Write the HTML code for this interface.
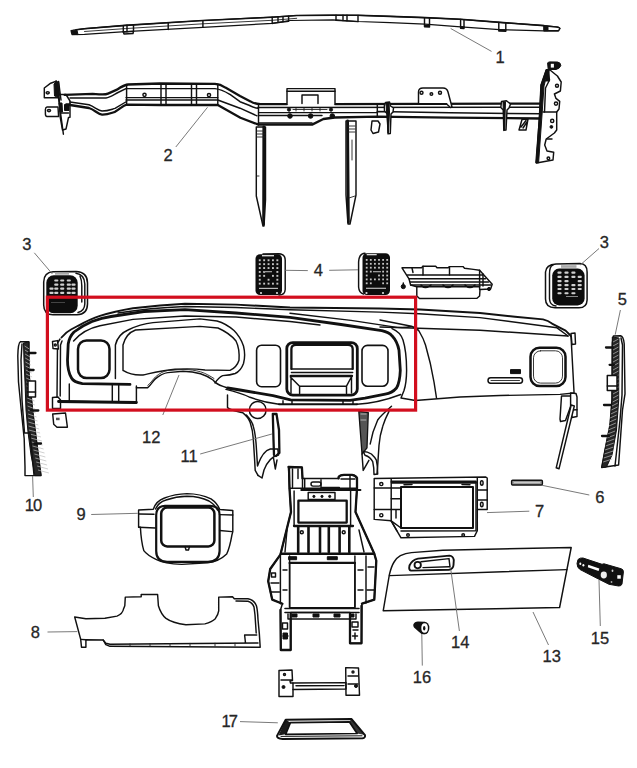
<!DOCTYPE html>
<html><head><meta charset="utf-8">
<style>
html,body{margin:0;padding:0;background:#fff;}
body{width:637px;height:768px;overflow:hidden;}
svg{display:block;}
.l{fill:none;stroke:#111;stroke-width:1.45;stroke-linejoin:round;stroke-linecap:round;}
.t{fill:none;stroke:#111;stroke-width:2.3;stroke-linejoin:round;stroke-linecap:round;}
.tt{fill:none;stroke:#111;stroke-width:2.8;stroke-linejoin:round;stroke-linecap:round;}
.th{fill:none;stroke:#222;stroke-width:0.9;stroke-linejoin:round;stroke-linecap:round;}
.ld{fill:none;stroke:#6a6a6a;stroke-width:0.9;}
.f{fill:#111;stroke:#111;stroke-width:1;stroke-linejoin:round;}
.w{fill:#fff;}
.wf{fill:#fff;stroke:#111;stroke-width:1.45;stroke-linejoin:round;}
text{font-family:"Liberation Sans",sans-serif;font-size:16.5px;fill:#262626;stroke:#262626;stroke-width:0.3px;}
</style></head><body>
<svg width="637" height="768" viewBox="0 0 637 768">
<rect width="637" height="768" fill="#fff"/>

<!-- PART 1 : top bar -->
<g id="p1">
<path class="wf" d="M71,30.5 L84.5,28.7 L125.3,25.4 L202.9,20.5 L272.2,17.2 L296.7,15.5 L333,15.2 L358,15.3 L390,16.4 L425,17.6 L460.6,19.3 L503,22.6 L544,25.6 L558,27 L560,28.4 L558,31 L544,30.8 L503,29.8 L460.6,26.8 L425,24.2 L390,22.6 L358,21.5 L333,19.8 L290,20.5 L272.2,23.4 L202.9,27.4 L125.3,31.7 L84.5,34.4 L72,34.6 Z" style="stroke-width:1.2"/>
<path class="t" d="M76,29.8 L84.5,28.7 L125.3,25.4 L202.9,20.5 L272.2,17.2 L296.7,15.5 L333,15.2 L358,15.3 L390,16.4 L425,17.6 L460.6,19.3 L503,22.6 L544,25.6" style="stroke-width:1.6"/>
<path class="th" d="M84.5,31.5 L125.3,28.6 L202.9,23.8 L272.2,20.3 L296.7,18.3"/>
<path class="l" d="M123.3,25.6 L123.3,32 M127,25.3 L127,31.8 M133.5,24.8 L133.5,31.3 M168.2,22.6 L168.2,29.5 M202.9,20.6 L202.9,27.3 M272.2,17.3 L272.2,23.4 M278,17 L278,22.6 M283,16.6 L283,21.6 M288.6,16.2 L288.6,20.8 M336,15.3 L336,20 M343,15.3 L343,20.4 M347,15.3 L347,20.7 M358,15.4 L358,21.5 M424.5,17.8 L424.5,25 M429.5,18 L429.5,25.2 M460.6,19.5 L460.6,26.8 M464,19.7 L464,27 M498.8,22.4 L498.8,29.6 M505.8,22.8 L505.8,29.8"/>
<path class="l" d="M123.3,32 L133.5,31.4 L133,33.5 L124,34 Z M272.2,23.4 L288.6,21.2 M336,20.2 L358,21.6 M424.5,25.4 L429.5,25.6 L429.5,27 L424.5,26.8 Z M498.8,29.7 L505.8,29.9 L505.8,31.2 L498.8,31 Z M460.6,26.8 L464,27 L464,28.5 L460.6,28.3 Z"/>
<path class="wf" d="M544,25.8 L556,27 Q560,27.5 559.8,28.6 L558.5,30.8 L548,30.8 L544,30.8 Z" style="stroke-width:1.4"/><path class="f" d="M544,26 L548,26.4 L548,30.6 L544,30.6 Z"/>
<path class="f" d="M71.5,30.8 Q73,30 77,30.2 L78,34.6 L73,34.4 Q70.8,33 71.5,30.8 Z"/>
</g>
<path class="ld" d="M450.7,28.5 L491.5,51.4"/>
<text x="495.5" y="62.7">1</text>

<!-- PART 2 : cross car beam -->
<g id="p2">
<!-- left bracket -->
<path class="wf" d="M44.3,97.8 L44.3,88 L50.7,83.2 L56.2,81.3 L58,97.8 Z"/>
<ellipse class="l" cx="47.7" cy="92.8" rx="1.6" ry="1.1"/>
<path class="wf" d="M47,107 L58,107 L58.6,116.5 L47,116.5 Q45.4,116.4 45.4,114 L45.4,109.5 Q45.5,107.2 47,107 Z"/>
<ellipse class="l" cx="49" cy="110.6" rx="1.6" ry="1.1"/>
<path class="wf" d="M59,94.5 L66,94.5 L70,101 L70,117.3 L68.5,117.5 L66,129 L62.5,130 L60.2,117 Z"/>
<path class="l" d="M56.2,81 L63.4,134.2 M58.6,81.5 L61,100 M60.5,113 L68.5,113 M66,104 L70,104"/>
<path class="f" d="M54,84 L56.5,81.5 L58.6,82 L59.5,95 L57.5,97 L54.5,96 Z"/>
<path class="f" d="M59,103 L62,103 L62.5,112 L60,112 Z"/>
<rect x="64.5" y="104.5" width="4.5" height="6" class="f"/>
<!-- S-shaped left section -->
<path class="t" d="M64.5,94.8 L92.7,93.9 C100,94 104,95.5 108,93.6 L117,89.6 C121,87 124,85 128,84.5 L160,83.5 L215,83.8 C220,84 222,85.2 225.4,87.6 L240,96 L250.5,101.4 C253,103 256,104 260.5,104.2 L287,104.2"/>
<path class="l" d="M70,98 L106,98 C110,97.4 114,94.5 118,92.5 L126,88.6 L160,88.6 L215,88.6 C222,89.4 226,92 230,94.4 L240,101.7 L249,105.2 C252,106.8 254,108 258,108.2"/>
<path class="l" d="M126,97.6 L217.8,97.6 M126,100 L217.8,100 L240,108.2 L257,115.8"/>
<path class="t" d="M70,105 L89,108 C95,110 98,114.4 102,114.6 C108,114.8 111,113 115,111.8 C120,109 123,105.5 126.6,104.6 L160,105 L217.8,105 L240.4,117.7 L258.5,124.6 L312.1,124.6 L323.4,119 L334.7,117.5 L377.3,116.6 L450,117.6 L540,118.5"/>
<path class="l" d="M70,102 L89,104.8 C95,107 98,110.5 102,111 C108,111 111,109.5 115,108.4 L126.6,101.5"/>
<path class="l" d="M126.6,84.5 L126.6,104.6 M161,83.6 L161,105 M166,83.6 L166,105 M191.5,83.7 L191.5,105 M196.5,83.7 L196.5,105 M217.8,84 L217.8,105 M258.5,104.3 L258.5,125"/>
<circle class="l" cx="144.5" cy="94.8" r="1.6"/>
<circle class="l" cx="209" cy="95" r="1.6"/>
<!-- center right beam lines -->
<path class="t" d="M335,104.2 L541,103.6"/>
<path class="l" d="M258,107.5 L541,107.3 M259,112.6 L377.3,112.6 M259,115.4 L322,115.4 M377.3,111.5 L450,112.8 L541,113.8 M258.5,123 L312,123"/>
<path class="l" d="M377.3,104 L377.3,116.5"/>
<!-- center box -->
<path class="wf" d="M287,104.2 L287,88.6 L335,88.6 L335,104.2"/>
<path class="l" d="M287,91.3 L335,91.3 M302,103.5 L302,95 L318,95 L318,103.5"/>
<g class="f"><circle cx="290" cy="116" r="2.3"/><circle cx="310.6" cy="116" r="2.3"/><circle cx="332.3" cy="116" r="2.3"/><circle cx="289" cy="109.6" r="1.6"/><circle cx="331" cy="109.6" r="1.6"/></g>
<path class="th" d="M293,109.5 L327,109.5 M296,108.4 L296,111 M304,108.4 L304,111 M312,108.4 L312,111 M320,108.4 L320,111"/>
<!-- struts -->
<path class="wf" d="M256.3,127 L265.5,127 L265.5,200 L264,226 L263,226 L256.3,196 Z"/>
<path class="tt" d="M263.8,127 L263.6,224"/>
<path class="th" d="M257,131 L265,131 M257,134 L265,134 M257,137 L265,137 M257,176 L259,176"/>
<path class="wf" d="M346,121 L356,121 L356,195 L350,224 L348,224 L346,195 Z"/>
<path class="tt" d="M347.6,121 L348.4,222"/>
<path class="th" d="M348,126 L355,126 M348,129 L355,129 M348,132 L355,132 M352,140 L352,160 M349,198 L355,196"/>
<!-- clips under beam -->
<path class="wf" d="M372,121 L378,121 L380,124 L378.5,132 L373,133.5 L371,130 Z"/>
<path class="wf" d="M385.5,102.5 L389.5,102 L390.5,106 L393.5,108 L393,112 L391,114 L390.3,133.5 L388,133.8 L387.5,114 L384.5,111 L384.3,106 Z"/><path class="f" d="M386,103 L389,102.8 L389.5,112 L388.5,132 L388,133 Z"/>
<!-- bracket on beam top -->
<path class="wf" d="M418.5,103.8 L418.5,92 Q418.5,88 423,88 L443,88 Q447,88 448,92 L452,107 L450.5,107.5 L446.6,104 Z"/>
<circle class="l" cx="421.5" cy="92.8" r="1.5"/><circle class="l" cx="431.4" cy="94" r="1.3"/><circle class="l" cx="440" cy="92.8" r="1.5"/>
<path class="l" d="M418.5,103.8 L446.6,103.8"/>
<path class="wf" d="M501.5,101.5 L506.5,100.8 L510.5,104 L509,108 L507,110 L506,130 L503.8,130.4 L503.3,110 L500.8,107.5 Z"/><path class="f" d="M503,102 L505.5,101.8 L505.2,111 L504.8,129.5 L504,129.8 Z"/>
<path class="l" d="M519,130 L522,119.5 L528,119 L526,130 Z M521,127 L526,120.5 M523,128 L527,122"/>
<!-- right bracket -->
<path class="wf" d="M546.2,70 L550,70 L557.4,76 L561.2,82 L560.4,91 L554.4,94 L556,98.4 L559.7,101.4 L559,109 L556.7,112 L556.7,130 L554.4,133 L546.2,139 L544.7,145 L547,151 L553.7,152.3 L553,160 L536.5,163 L539.5,115 L541,85 Z"/>
<path class="f" d="M546.2,70 L548.2,70.5 L544,86 L542,115 L538.6,162.8 L535.7,162.8 L539.5,115 L541,85 Z"/><path class="l" d="M548,72 L549.5,80 L545.5,88 L544.5,112"/>
<path class="f" d="M547.6,63 Q548,61.9 550,61.9 L557.5,62 Q560.8,62.5 560.8,65.5 Q560,68.5 556,69.5 L548.2,69.5 Z"/><rect x="550.8" y="63.8" width="3.1" height="3.8" fill="#fff"/><rect x="545.8" y="69" width="3.8" height="12.5" fill="#111"/>
<path class="l" d="M543,112 L556.7,112 M547,139 L552,139"/>
<circle class="l" cx="557" cy="85.7" r="1.5"/><circle class="l" cx="556" cy="103.6" r="1.6"/><circle class="l" cx="552.2" cy="120.9" r="1.6"/><circle class="f" cx="551.4" cy="126.9" r="1.4"/><circle class="l" cx="548.4" cy="158.3" r="1.3"/>
</g>
<path class="ld" d="M175.8,147 L207.5,107.3"/>
<text x="163.6" y="161.3">2</text>

<!-- INSTRUMENT PANEL (12) -->
<g id="ip">
<!-- body fill to hide -->
<path class="t" style="stroke-width:1.9" d="M61.5,337.5 C64,334.5 67,331.5 71,329.5 C74,328 76,327 78,325.8 C85,322 92,318.5 100,315.9 C112,312 122,310 133,308.2 L160,305.5 L185,303.8 L236,304.6 L290,307.5 L380,308.5 L420,309.5 L480,313 L515,316.7 L543,319.4 C548,320.5 550,322 552,323.6 L565.6,330.6 L571,336"/>
<path class="l" d="M118,313 C140,309.5 160,307.5 185,306.5 L236,307.5 L290,309.8 L380,312.1 L419,313.7 L480,317.6 L557,327.8 L568,336"/>
<path class="l" d="M380,327 L480,330.2 L568,336"/>
<!-- right end -->
<path class="l" d="M571,336 L574,391.7 L574,393 L560,394.4 L500,395.5 L460,397 L415.4,400.5"/>
<path class="wf" d="M571,333.5 L575,333 L575.5,344 L572,344.5 Z"/>
<!-- glove face curve -->
<path class="l" d="M290,313.3 L351,320.4 L392,326.6 C400,328 406,328 411.4,326.3 M380,320 L411.4,326.3 C415,327.5 417.5,329 419,331 C422,336 424,340 425.5,345 C429,357 432,370 434,382 L436.5,398"/>
<!-- bezel thick loop -->
<path class="tt" d="M130,384.4 L82.4,383.7 C76,382.5 73,381 71.5,378 C68,372 67.5,368 67.5,360 L68.2,344 C69,339 71,335 74,332 C80,327.5 86,324 92,321.5 C100,318.5 106,317.2 111,316.5 L144,311.5 L185,309.6 L236,313 L290,317.4 L341,324.5 L381.8,330.7 C387,332 390,333.5 392,335.8 C396,340 398,345 399,350.3 L400.3,370.4 C400,378 399,384 396.5,388 C393,392 390,393.5 385.2,394.2 L365,398.2 L350,400.4 L290.5,399.8 L273,395.6 L240,390 L227.7,388"/>
<path class="l" d="M73.6,341 C80,333.5 90,328 100,325.8 L133,319.4 L185,316 L236,317 L290,321.5 L320,325"/>
<path class="l" d="M392,328.6 C398,331 401,334 403,340 C405.5,348 406.6,358 406.6,370.4 C406.5,380 405.5,386 404,390.5 L401,398 L415.4,400.5"/>
<path class="t" d="M279,404.2 L357,404.2" style="stroke-width:2"/><path class="l" d="M357,404.2 C372,403.5 385,400.5 400.8,394.5 M226,389.4 C235,391.5 243,394 250,397.3 C260,401 268,403 279,404.2 M283,400.8 L283,404 M292,400.6 L292,404 M343,400.6 L343,404 M353,400.6 L353,404"/>
<!-- left end -->
<path class="l" d="M60,339 L57.5,343 L57,398 L58.5,401 L136.4,402.7"/>
<path class="l" d="M62,341 L60.5,345 L60.2,396"/>
<path class="wf" d="M52.5,341.5 L57.5,340.6 L58.4,349 L53,348.5 Z"/>
<circle class="l" cx="55.3" cy="345" r="1"/>
<path class="wf" d="M52.5,397.5 L58,397 L60.5,400 L60.5,408.5 L52.5,408.5 Z"/>
<path class="wf" d="M52.7,414 L65.5,413 L67.4,427.2 L57,427.2 L53.7,424.3 Z"/>
<rect x="56" y="417.7" width="3.6" height="2.5" fill="#555"/>
<path class="l" d="M69.3,384 L69.3,401.5 M112.3,385 L112.3,401.8 M118.7,385 L118.7,402 M136.4,386 L136.4,402.7"/>
<path class="tt" d="M58.5,401.5 L136.4,402.5"/>

<!-- left vent -->
<rect x="78" y="340.5" width="31.5" height="37.5" rx="8.5" class="tt" style="stroke-width:2.5"/>

<!-- cluster hood -->
<path class="l" d="M115.4,378.5 L115.4,345 C117,338 121,333 128,330 C136,326 144,323.5 153,322.6 L200,318.9 L217,321 C224,323 230,327 234,330.5 C238.5,335 241.5,340 243.5,346 C245,352 245,358 243.5,363.5 C241.5,369 238.5,372 235.2,373.5 C231,375 227,375.4 222.7,375.6 C219,377 217,380 215,383"/>
<path class="l" d="M123,370.4 L123,345 C125,337 130,332 135.5,330 L200,326.4 L218,328 C226,331.5 232,336 236,341 C238.5,346 239.5,353 239,360.3 C237.5,365 234.5,368.5 230,370.4 L205,370 C195,368.5 185,368.7 175,369.2 C160,370.5 150,373.5 143,375 C135,375.5 128,373.5 123,370.4"/>
<!-- steering arch -->
<path class="l" d="M136.4,387.7 L147.7,387.7 C151,385 153,381 155.3,378.9 C160,375 164,373 167.8,372.6 L183,371.3 C190,371.5 196,372.5 200.5,373.8 C206,375.5 210,378 213,380 C215,382.5 217,384.5 223,386.4 L227.7,388"/>
<path class="th" d="M147.7,385.5 C151,382.5 153,379.5 155.3,377 C160,373 164,371 167.8,370.5 L183,369.4 C190,369.5 196,370.5 200.5,371.8 C206,373.5 210,376 214,378.5"/>
<!-- small vents -->
<rect x="256.6" y="345.2" width="23.9" height="41.5" rx="5" class="t" style="stroke-width:1.6"/>
<rect x="362" y="345.4" width="26" height="40.8" rx="5.5" class="t" style="stroke-width:1.6"/>
<!-- center vent -->
<rect x="286.8" y="342.6" width="70.5" height="52.5" rx="6" class="tt"/>
<path class="t" d="M291.4,368.9 L291.4,349 Q291.4,344.8 296,344.8 L348,344.8 Q352.7,344.8 352.7,349 L352.7,368.9"/>
<path class="l" d="M291.4,368.9 L352.7,368.9 M291.4,372.5 L352.7,372.5"/>
<path class="t" d="M290.8,376 L352,376"/>
<path class="l" d="M290.4,377 L299.6,386.2 L346.5,386.2 L351.6,376.5 M299.6,386.2 L299.6,393.4 M346.5,386.2 L346.5,393.4 M291,378 L291,393 M351.5,377 L351.5,393"/>
<!-- chrome bar -->
<rect x="488" y="377.8" width="34.5" height="5.5" rx="2.7" class="t" style="stroke-width:1.5"/>
<path class="th" d="M491,380.5 L519.5,380.5"/>
<rect x="510.5" y="369.6" width="10" height="4" class="f"/>
<!-- right vent -->
<rect x="530.5" y="347.8" width="35" height="38.3" rx="9" class="tt" style="stroke-width:2.5"/>
<rect x="533.5" y="350.8" width="29" height="32.3" rx="7" class="th"/>
<!-- under-right bracket -->
<path class="wf" d="M561.5,396 L570.6,396 L571.5,404 L565.5,420.5 L560.5,421.5 L560,419 Z"/>
<path class="wf" d="M570.6,393 L576,393.5 L577,397 L577,416.5 L572,417.5 L570.6,410 Z"/>
<path class="l" d="M570.6,410 L577,409.8"/>
<path class="wf" d="M571.2,405 L574.3,406 L559,468.8 L556.2,467.8 Z"/>
</g>
<!-- VENT 3 left -->
<g id="v3l">
<path class="l" d="M53,271.8 L76,271.5 Q87.5,272 87.5,283 L87.5,304 Q87.3,314.6 77,314.8 L53,314.8 Q43.7,314.5 43.7,305 L43.7,282 Q43.8,272.5 53,271.8 Z" style="stroke-width:1.5"/>
<path class="l" d="M76,273.3 Q84.5,274.5 84.8,284 L84.8,304 Q84.5,311 78,312.5" />
<path class="l" d="M80,276 Q81.8,280 81.8,286 L81.8,302"/>
<rect x="46.3" y="275.3" width="31.4" height="38" rx="7.5" fill="#0d0d0d"/>
<rect x="55" y="272.5" width="14" height="2.2" fill="#aaa"/>
<g fill="#cfcfcf"><rect x="54.2" y="279.4" width="4.2" height="2.1" rx="1"/><rect x="60.1" y="279.4" width="4.2" height="2.1" rx="1"/><rect x="66.7" y="279.4" width="4.2" height="2.1" rx="1"/><rect x="54.2" y="283.6" width="4.2" height="2.1" rx="1"/><rect x="60.1" y="283.6" width="4.2" height="2.1" rx="1"/><rect x="66.7" y="283.6" width="4.2" height="2.1" rx="1"/><rect x="71.4" y="283.6" width="4.2" height="2.1" rx="1"/><rect x="49.4" y="287.6" width="4.2" height="2.1" rx="1"/><rect x="54.2" y="287.6" width="4.2" height="2.1" rx="1"/><rect x="60.1" y="287.6" width="4.2" height="2.1" rx="1"/><rect x="66.7" y="287.6" width="4.2" height="2.1" rx="1"/><rect x="71.4" y="287.6" width="4.2" height="2.1" rx="1"/><rect x="49.4" y="291.8" width="4.2" height="2.1" rx="1"/><rect x="54.2" y="291.8" width="4.2" height="2.1" rx="1"/><rect x="60.1" y="291.8" width="4.2" height="2.1" rx="1"/><rect x="66.7" y="291.8" width="4.2" height="2.1" rx="1"/><rect x="71.4" y="291.8" width="4.2" height="2.1" rx="1"/></g>
<rect x="51" y="302" width="14" height="1" fill="#444"/>
</g>
<path class="ld" d="M34.3,252.8 L52.4,274"/>
<text x="22.2" y="250.1">3</text>

<!-- VENT 3 right -->
<g id="v3r">
<path class="l" d="M556,263.9 L580,263.6 Q587.1,264 587.1,272 L587.1,300 Q586.8,307.8 579,307.8 L555,307.8 Q545.5,307.5 545.5,299 L545.5,272 Q546,264.5 556,263.9 Z" style="stroke-width:1.5"/>
<path class="l" d="M553,265 Q549.5,266 549.5,274 L549.5,299 Q550,305.5 556,306"/>
<rect x="552.2" y="268.6" width="32.4" height="36.8" rx="7" fill="#0d0d0d"/>
<rect x="561" y="265.2" width="15.5" height="2.6" fill="#aaa"/>
<g fill="#cfcfcf"><rect x="557.4" y="271.6" width="4.2" height="2.1" rx="1"/><rect x="564.4" y="271.6" width="4.2" height="2.1" rx="1"/><rect x="571.3" y="271.6" width="4.2" height="2.1" rx="1"/><rect x="557.4" y="275.8" width="4.2" height="2.1" rx="1"/><rect x="564.4" y="275.8" width="4.2" height="2.1" rx="1"/><rect x="571.3" y="275.8" width="4.2" height="2.1" rx="1"/><rect x="577.6" y="275.8" width="4.2" height="2.1" rx="1"/><rect x="557.4" y="280.1" width="4.2" height="2.1" rx="1"/><rect x="564.4" y="280.1" width="4.2" height="2.1" rx="1"/><rect x="577.6" y="280.1" width="4.2" height="2.1" rx="1"/><rect x="557.4" y="284.1" width="4.2" height="2.1" rx="1"/><rect x="564.4" y="284.1" width="4.2" height="2.1" rx="1"/><rect x="571.3" y="284.1" width="4.2" height="2.1" rx="1"/><rect x="577.6" y="284.1" width="4.2" height="2.1" rx="1"/><rect x="557.4" y="287.9" width="4.2" height="2.1" rx="1"/><rect x="564.4" y="287.9" width="4.2" height="2.1" rx="1"/><rect x="571.3" y="287.9" width="4.2" height="2.1" rx="1"/><rect x="577.6" y="287.9" width="4.2" height="2.1" rx="1"/><rect x="557.4" y="292.2" width="4.2" height="2.1" rx="1"/><rect x="564.4" y="292.2" width="4.2" height="2.1" rx="1"/><rect x="571.3" y="292.2" width="4.2" height="2.1" rx="1"/></g>
<rect x="566" y="296" width="12" height="1" fill="#888"/>
</g>
<path class="ld" d="M599,248.5 L580.2,265"/>
<text x="599.8" y="247.8">3</text>

<!-- VENTS 4 -->
<g id="v4">
<path class="l" d="M263,254 L279,253.8 Q285.2,254.3 285.2,260 L285.2,289.5 Q285,295 279,295"/>
<rect x="255.5" y="254.3" width="26.5" height="40.8" rx="4.5" fill="#0d0d0d"/>
<rect x="262" y="255" width="12" height="1.4" fill="#ddd"/>
<g fill="#c4c4c4"><rect x="258.8" y="259.3" width="1.9" height="1.9"/><rect x="263.2" y="259.3" width="1.9" height="1.9"/><rect x="267.6" y="259.3" width="1.9" height="1.9"/><rect x="272.0" y="259.3" width="1.9" height="1.9"/><rect x="276.4" y="259.3" width="1.9" height="1.9"/><rect x="258.8" y="263.2" width="1.9" height="1.9"/><rect x="263.2" y="263.2" width="1.9" height="1.9"/><rect x="267.6" y="263.2" width="1.9" height="1.9"/><rect x="272.0" y="263.2" width="1.9" height="1.9"/><rect x="276.4" y="263.2" width="1.9" height="1.9"/><rect x="258.8" y="267.1" width="1.9" height="1.9"/><rect x="263.2" y="267.1" width="1.9" height="1.9"/><rect x="267.6" y="267.1" width="1.9" height="1.9"/><rect x="272.0" y="267.1" width="1.9" height="1.9"/><rect x="276.4" y="267.1" width="1.9" height="1.9"/><rect x="258.8" y="271.0" width="1.9" height="1.9"/><rect x="263.2" y="271.0" width="1.9" height="1.9"/><rect x="276.4" y="271.0" width="1.9" height="1.9"/><rect x="258.8" y="274.9" width="1.9" height="1.9"/><rect x="263.2" y="274.9" width="1.9" height="1.9"/><rect x="272.0" y="274.9" width="1.9" height="1.9"/><rect x="276.4" y="274.9" width="1.9" height="1.9"/><rect x="258.8" y="278.8" width="1.9" height="1.9"/><rect x="267.6" y="278.8" width="1.9" height="1.9"/><rect x="276.4" y="278.8" width="1.9" height="1.9"/><rect x="258.8" y="282.7" width="1.9" height="1.9"/><rect x="263.2" y="282.7" width="1.9" height="1.9"/><rect x="267.6" y="282.7" width="1.9" height="1.9"/><rect x="272.0" y="282.7" width="1.9" height="1.9"/><rect x="276.4" y="282.7" width="1.9" height="1.9"/></g>
<rect x="264" y="271" width="8" height="1.3" fill="#999"/>
<rect x="259" y="287.8" width="19" height="1.2" fill="#bbb"/>
<circle cx="261" cy="293" r="1.1" fill="#ddd"/><circle cx="277" cy="293" r="1.1" fill="#ddd"/>
<path class="l" d="M365,253.2 Q359,253.5 358.6,262 L358.6,287 Q359,293 363.5,294"/>
<rect x="362.5" y="253.2" width="27.5" height="41.8" rx="4.5" fill="#0d0d0d"/>
<rect x="366.7" y="254" width="10" height="1.3" fill="#ddd"/>
<g fill="#c4c4c4"><rect x="365.8" y="259.0" width="1.8" height="1.8"/><rect x="369.9" y="259.0" width="1.8" height="1.8"/><rect x="374.0" y="259.0" width="1.8" height="1.8"/><rect x="378.1" y="259.0" width="1.8" height="1.8"/><rect x="382.2" y="259.0" width="1.8" height="1.8"/><rect x="386.3" y="259.0" width="1.8" height="1.8"/><rect x="365.8" y="262.9" width="1.8" height="1.8"/><rect x="369.9" y="262.9" width="1.8" height="1.8"/><rect x="374.0" y="262.9" width="1.8" height="1.8"/><rect x="378.1" y="262.9" width="1.8" height="1.8"/><rect x="382.2" y="262.9" width="1.8" height="1.8"/><rect x="386.3" y="262.9" width="1.8" height="1.8"/><rect x="365.8" y="266.8" width="1.8" height="1.8"/><rect x="369.9" y="266.8" width="1.8" height="1.8"/><rect x="374.0" y="266.8" width="1.8" height="1.8"/><rect x="378.1" y="266.8" width="1.8" height="1.8"/><rect x="382.2" y="266.8" width="1.8" height="1.8"/><rect x="386.3" y="266.8" width="1.8" height="1.8"/><rect x="365.8" y="270.7" width="1.8" height="1.8"/><rect x="369.9" y="270.7" width="1.8" height="1.8"/><rect x="382.2" y="270.7" width="1.8" height="1.8"/><rect x="386.3" y="270.7" width="1.8" height="1.8"/><rect x="365.8" y="274.6" width="1.8" height="1.8"/><rect x="378.1" y="274.6" width="1.8" height="1.8"/><rect x="382.2" y="274.6" width="1.8" height="1.8"/><rect x="386.3" y="274.6" width="1.8" height="1.8"/><rect x="365.8" y="278.5" width="1.8" height="1.8"/><rect x="369.9" y="278.5" width="1.8" height="1.8"/><rect x="374.0" y="278.5" width="1.8" height="1.8"/><rect x="378.1" y="278.5" width="1.8" height="1.8"/><rect x="382.2" y="278.5" width="1.8" height="1.8"/><rect x="386.3" y="278.5" width="1.8" height="1.8"/><rect x="365.8" y="282.4" width="1.8" height="1.8"/><rect x="369.9" y="282.4" width="1.8" height="1.8"/><rect x="382.2" y="282.4" width="1.8" height="1.8"/><rect x="386.3" y="282.4" width="1.8" height="1.8"/></g>
<rect x="373" y="271" width="8" height="1.3" fill="#999"/>
<rect x="366" y="287.7" width="20" height="1.2" fill="#bbb"/>
<circle cx="366.5" cy="293" r="1.1" fill="#ddd"/><circle cx="383" cy="293" r="1.1" fill="#ddd"/>
</g>
<path class="ld" d="M285.2,270.3 L307.8,270.6 M329.2,270.3 L358,269.8"/>
<text x="313.8" y="276.4">4</text>

<!-- center top bezel piece -->
<g id="bz">
<path class="wf" d="M402,267.8 L421.5,267.8 L423,266.3 L435.7,266.3 L437,267.8 L448.2,267.8 L449.5,266.6 L463,266.6 L464.5,268.2 L473.4,269.4 L479.6,270.2 L492.2,284.3 L490.6,289 L480,289.5 L479.6,296 L477,298.3 L419.5,298.5 L416.8,296 L416.8,286.7 L410.6,285 L409,278.8 L405,272.6 Z"/>
<path class="l" d="M407.5,275 L482,275 M409,278.8 L485.5,278.8 M410.5,282 L488.5,282 M410.6,285 L490.8,285 M416.8,286.7 L480,286.7 M479.6,270.2 L479.6,289.5 M483,274 L483,286 M412,268 L413,272.5"/>
<path class="t" d="M421,285 Q425,290 431,285 M443,285 Q448,290 453,285 M465,285 Q470,290 475,285" style="stroke-width:1.6"/>
<path class="l" d="M423,266.3 L423,275 M449.5,266.6 L449.5,275"/>
<circle class="f" cx="403.3" cy="286.6" r="2.1"/>
<path class="t" d="M403.3,283 L403.3,284.5" style="stroke-width:1.5"/>
<circle class="f" cx="489" cy="289" r="1.6"/>
</g>

<!-- PART 5 right side trim -->
<g id="p5">
<path class="wf" d="M613.4,336 L620.5,335.8 Q623.5,336.5 624.2,343.7 L625,393.8 L622.5,410 L618.6,465 L601.7,467.5 L605,450 L610,425 L612,400 L612.3,343 Z"/>
<path d="M612.3,337 L619,338 L618.7,400 L616.5,430 L612,455 L606.5,467 L601.7,467.5 L605,450 L610,425 L612,400 Z" fill="#262626" stroke="#111" stroke-width="1"/>
<path d="M613.0,342 L618.5,339 M613.0,346 L618.5,343 M613.0,350 L618.5,347 M613.0,354 L618.5,351 M613.0,358 L618.5,355 M613.0,362 L618.5,359 M613.0,366 L618.5,363 M613.0,370 L618.5,367 M613.0,374 L618.5,371 M613.0,378 L618.5,375 M613.0,382 L618.5,379 M613.0,386 L618.5,383 M613.0,390 L618.5,387 M613.0,394 L618.5,391 M613.0,398 L618.5,395 M612.7,402 L618.3,399 M612.0,406 L617.9,403 M611.4,410 L617.5,407 M610.8,414 L617.1,411 M610.1,418 L616.7,415 M609.5,422 L616.3,419 M608.8,426 L615.9,423 M608.2,430 L615.5,427 M607.6,434 L615.1,431 M606.9,438 L614.7,435 M606.3,442 L614.3,439 M605.6,446 L613.9,443 M605.0,450 L613.5,447 M604.4,454 L613.1,451 M603.7,458 L612.7,455 M603.1,462 L612.3,459" stroke="#bbb" stroke-width="0.7"/>
<path class="l" d="M621,338 L622.5,345 L622,395 L620,420 L615,466"/>
<path class="t" d="M606,347.5 L613,347.5 M609.6,364.8 L614,364.8 M604,405 L611,405 M602,436 L609,436"/>
<rect x="607.3" y="375.6" width="9.7" height="15" class="wf" style="stroke-width:1.5"/>
<path class="l" d="M607.3,386 L617,386"/>
</g>
<path class="ld" d="M620.4,310 L615.2,334.7"/>
<text x="617.8" y="304.7">5</text>

<!-- PART 10 left side trim -->
<g id="p10">
<path class="wf" d="M20.5,341.6 L28.9,341.8 L28.9,372.7 L32.6,410.5 L37.4,448 L41,475.6 L25,475.6 L25,467 L24.2,438.8 L21.3,410.5 L18.5,382 L17.8,356 Q18,343 20.5,341.6 Z"/>
<path d="M23.5,343 L28.9,342 L28.9,372.7 L32.6,410.5 L37.4,448 L41,475.6 L35,475.6 L31,455 L28,432 L26,410 L25,382 L24,360 Z" fill="#262626" stroke="#111" stroke-width="1"/>
<path d="M24.6,346 L29.3,349 M24.9,350 L29.7,353 M25.1,354 L30.1,357 M25.2,358 L30.5,361 M25.4,362 L30.9,365 M25.6,366 L31.3,369 M25.9,370 L31.7,373 M26.1,374 L32.1,377 M26.2,378 L32.5,381 M26.4,382 L32.9,385 M26.6,386 L33.3,389 M26.9,390 L33.7,393 M27.1,394 L34.1,397 M27.2,398 L34.5,401 M27.4,402 L34.9,405 M27.6,406 L35.3,409 M27.9,410 L35.7,413 M28.1,414 L36.6,417 M28.2,418 L37.5,421 M28.4,422 L38.3,425 M28.6,426 L39.2,429 M28.9,430 L40.1,433 M29.8,434 L41.0,437 M30.7,438 L41.9,441 M31.6,442 L42.7,445 M32.5,446 L43.6,449 M33.5,450 L44.5,453 M34.4,454 L45.4,457 M35.3,458 L46.3,461 M36.2,462 L47.1,465 M37.1,466 L48.0,469 M38.0,470 L48.9,473" stroke="#bbb" stroke-width="0.7"/>
<path class="l" d="M22,344 L21,360 L22,400 L24.5,433 L30,433 L34,475"/>
<path class="t" d="M28.9,353 L35.5,353 M28.9,370 L33.6,370 M30.8,410.5 L38.3,410.5 M34.5,443.5 L41,443.5"/>
<rect x="28" y="381" width="7.5" height="16" class="wf" style="stroke-width:1.5"/>
<path class="l" d="M28,392 L35.5,392"/>
</g>
<path class="ld" d="M32.6,476 L33.3,497"/>
<text x="24.8" y="511.4" letter-spacing="-1">10</text>

<!-- PART 11 brackets -->
<g id="p11">
<circle cx="257.7" cy="410" r="8.4" class="l" style="stroke-width:1.5"/>
<path class="l" d="M227.5,395 L227.5,407.6 C232,411 238,411.5 242.6,412.6 C247,416 249,419 250.2,422.6 C252,428 253,433 253.3,439 L254.5,457.8 L255.2,470.4 L258,475.4"/>
<path class="l" d="M246.4,415 C250,419 252.5,422 253.3,426.4 C255,432 256,440 256.5,450 L257.5,466"/>
<path class="t" d="M272.8,413.8 L276.5,414 L279,430 L279.4,452.8 L276,456 M272.8,413.8 L273.5,440 L274,455"/>
<path class="l" d="M257.7,465.3 C261,456 266,450 270.3,449 L277.8,449 L278.5,455 C273,456 268,460 264,470 L262,478 L258,475.4"/>
<path class="l" d="M273.5,458 L275.3,469 L277,460"/>
<!-- right mirror bracket -->
<path d="M358.8,411.3 L368.3,412.6 L367,447.8 L362,454 Z" fill="#555" stroke="#111" stroke-width="1.3" stroke-linejoin="round"/>
<path d="M360.5,414 L366.5,414 M360.5,420 L366.3,420" stroke="#ccc" stroke-width="0.8"/>
<path class="l" d="M391.5,406.3 C385,412 380,416.5 377.7,420 C374,428 371.5,436 370.2,444"/>
<path class="l" d="M389,411.3 C386,417 384,422 382.7,426.4 C380.5,433 379.5,439 379,445.3 L377.7,465.4 L377,474"/>
<path class="l" d="M363.2,451.5 C366,451.5 369,452.5 371.4,454 C373.5,456 375.5,458 376.4,460.3 C377.3,464 377.7,468 377.7,474 L374,474.5 C374,469 373.5,465 372.7,461.6 C371,458.5 368.5,456.5 365,455.3 Z"/>
<path class="l" d="M362,454 L363.2,470.4 L368.9,460.3"/>
</g>
<path class="ld" d="M200.2,454 L271.9,434"/>
<text x="180.5" y="461.6">11</text>
<path class="ld" d="M162.8,415 L179,375"/>
<text x="142" y="442.8">12</text>

<!-- PART 9 steering column shroud -->
<g id="p9">
<path class="wf" d="M138.6,510 L153.3,509.2 C155,504 159,500 164.5,498 C172,495 180,493.8 187,493.6 C196,493.7 204,495.5 211,498.8 C215,501.5 218,505 219.8,509.5 L232.8,510.5 L232.8,531.6 L231.9,535 C230.5,543 229,549 226.7,554 C221,559.5 215,562 207.7,562.7 L181.8,564.4 C171,564 162,562.5 156,559.3 C150,556.5 146,553.5 143.8,550.6 C141.5,543 140.8,535 140.4,527.3 L138.6,527.3 Z"/>
<path class="l" d="M138.6,514 L154,514.3 M138.8,527.3 L155.5,528 M219.5,514.6 L232.8,515 M219.6,530.5 L232,531.6"/>
<path class="l" d="M155.5,509 C157.5,504.5 161,501.5 166,500 C173,497.5 180,496.3 187,496.2 C196,496.3 203,498 209,501 C213,503.5 216,506.5 217.5,510"/>
<path class="t" d="M165,505.8 L210,505.8 Q219.6,506 219.6,515 L219.6,551 Q219.3,561.8 208,561.8 L167,561.8 Q156.2,561.5 156.2,551 L156.2,515 Q156.4,506 165,505.8 Z" style="stroke-width:2.2"/>
<rect x="161.2" y="507.6" width="53.2" height="38.8" rx="6" class="t" style="stroke-width:2.5"/>
<path class="l" d="M185,546.6 L186,550 L188.5,550 L189.5,546.6"/>
</g>
<path class="ld" d="M91.2,514.5 L137.8,513.3"/>
<text x="76.4" y="520">9</text>

<!-- PART 8 knee bolster -->
<g id="p8">
<path class="wf" d="M74.7,617 L85.9,618.7 L104.9,618.2 L117,616.1 C121,614.5 123,612 123.5,609 L124.8,605.7 L125.3,597.1 L141.2,596.7 L141.2,594.5 L157.6,594.5 L158.4,605.7 C160,611 162,615 166,618.4 C170,621.3 176,623.5 185.9,624.7 L204.9,623.9 C210,622.5 213.5,620.5 215.3,618.7 C217.5,615.5 218.5,612.5 218.7,610.9 L218.7,597.1 L232.5,596.7 L234.3,598.8 L248,598.8 C252,599.5 255,602 256.5,606 C257.5,610 257.8,615 258,619.5 L259.3,633.4 L260.2,647.2 L110,646.3 L105.8,644.6 L103.2,640 L85.9,639.8 L85.9,647.2 L81.5,647.2 L80.7,639.4 Z"/>
<path class="l" d="M103.2,640 L105.8,643.2 L110,644.2 L258,643 M244.6,635 L256.7,635 M244.6,635 L245.5,643 M236,601 L248,601.2 C251,602 253,604 254,607 L255,615 L256.2,633"/>
<path class="l" d="M80.7,639.4 L85.9,639.8" />
<path class="th" d="M130,643.8 L130,646 M150,643.6 L150,646 M170,643.4 L170,646 M190,643.3 L190,646 M215,643.2 L215,646 M235,643.1 L235,646"/>
</g>
<path class="ld" d="M47.5,632 L77.3,631.6"/>
<text x="30.8" y="638">8</text>

<!-- CENTER CONSOLE -->
<g id="cc">
<!-- upper frame -->
<path class="wf" d="M288.5,467 L301.9,467.3 L302.5,478.4 L338.6,478.4 L338.6,477 Q340,474.8 344,474.8 L352,474.8 Q356,475.5 357,478 L357,488.2 L355.5,512 L374.3,553.7 L376.3,560.8 L374.3,599.6 L362,603.7 L361.5,643.3 L350,643.3 L350,612.5 L290.7,612.5 L290.7,650 L280.8,650 L280.5,610 L282.4,603.7 L272.2,599.6 L268.2,581.2 L270.2,569 L280.4,554.7 L291,512 L289.5,488.2 Z"/>
<path class="t" d="M288.5,467 L301.9,467.3 L302.5,478.4 M289,468 L289.5,488.2 L291,512 L280.4,554.7 L270.2,569 L268.2,581.2 L272.2,599.6 L282.4,603.7 M280.5,610 L280.8,650 L290.7,650 L290.7,614 M338.6,478.4 L338.6,477 Q340,474.8 344,474.8 L352,474.8 Q356,475.5 357,478 L357,488.2 L355.5,512 L374.3,553.7 L376.3,560.8 L374.3,599.6 L362,603.7 M361.5,606 L361.5,643.3 L350,643.3 L350,614"/>
<path class="l" d="M292.5,469 L292.5,487 M298,469 L298,478.4 M302.5,478.4 L302.5,488.2 M304.7,478.4 L304.7,488.2 M289.5,488.2 L357,488.2 M321,479.8 L321,487.5 L339.3,487.5 M350,476 L350,488 M341,479 L355,479 M294.1,491 L294.1,526 M350.6,491 L350.6,526"/>
<path class="t" d="M301.2,490 L360.5,490" style="stroke-width:1.8"/>
<rect x="311" y="481.9" width="10" height="4.2" rx="2" class="l"/>
<rect x="308.2" y="492.5" width="26.8" height="7" class="l"/>
<g class="f"><circle cx="313.9" cy="496.4" r="1.1"/><circle cx="322" cy="496.4" r="1.1"/><circle cx="329.7" cy="496.4" r="1.1"/></g>
<rect x="298.4" y="500.7" width="48.3" height="21.9" class="t"/>
<path class="t" d="M294,526 L353,526"/>
<g class="t" style="stroke-width:2.6"><path d="M298.2,527 L298.2,552 M308.5,527 L308.5,552 M320,527 L320,552 M328.8,527 L328.8,552 M339.6,527 L339.6,552 M349.3,527 L349.3,552"/></g>
<circle class="l" cx="301.8" cy="532.2" r="1.5"/><circle class="l" cx="343.7" cy="532.2" r="1.5"/>
<path class="l" d="M287,530 L285,552 M359,530 L364,552"/>
<path class="tt" d="M281,553.7 L374,553.7" style="stroke-width:2.4"/>
<g class="f"><rect x="288.6" y="556.7" width="8" height="3"/><rect x="327.3" y="556.7" width="10" height="3"/></g>
<path class="l" d="M280.4,556 L280.4,603.7 M289.6,556 L289.6,607 M354.9,556 L354.9,607 M366,556 L366,603"/>
<rect x="289.6" y="562.9" width="65.3" height="44.9" class="l" style="stroke-width:1.5"/>
<path class="t" d="M289.6,562.9 L354.9,562.9"/>
<path class="t" d="M285,608.5 L359,608.5 M285,612.5 L359,612.5" style="stroke-width:1.6"/>
<path class="l" d="M288,614 L288,619 L356,619 L356,614"/>
<g class="f"><rect x="292" y="614" width="5" height="3"/><rect x="313" y="614" width="6" height="3"/><rect x="334" y="614" width="6" height="3"/><rect x="350" y="614" width="4" height="3"/></g>
<path class="l" d="M271,583 L279,583 M270.5,592 L279.5,592 M368,567 L374,567 M367,590 L374,590 M283,636 L288,636 M353,630 L358,630 M283,570 L287,570 M283,590 L287,590 M358,570 L363,570 M358,590 L363,590"/>
<rect x="271.5" y="573" width="4" height="4" class="l"/>
<rect x="282.5" y="623" width="5" height="6" class="l"/>
<path class="f" d="M283,633 L287.5,633 L287.5,639 L283,639 Z"/>
<rect x="352" y="622" width="6" height="5" class="l"/>
<path class="l" d="M355,633 L355,639 M352.5,636 L357.5,636"/>
</g>

<!-- PART 7 -->
<g id="p7">
<path class="wf" d="M374.2,478.5 L485.8,477 L487.2,478 L487.2,509.5 L477.3,509.5 L477.3,530.7 L474.5,536.4 L401,537.8 L396.8,530.7 L391.2,520.8 L374.2,519.4 Z"/>
<path class="l" d="M391.2,479 L391.2,520.8 M477.3,478 L477.3,509.5 M374.2,488 L391.2,488 M374.2,509.5 L391.2,509.5 M477.3,490 L487.2,490 M477.3,500 L487.2,500"/>
<path class="l" d="M391.2,481.3 L476,481.3 L476,530.7 L401,531 M391.2,520.8 L396.8,530.7"/>
<path class="t" d="M392,482.5 L475.5,482.5" style="stroke-width:2.6"/>
<rect x="401" y="487" width="72" height="41" class="t" style="stroke-width:2"/>
<path class="l" d="M391.2,488 L401,488 M391.2,498.7 L401,498.7 M391.2,509.5 L401,509.5 M391.2,520.8 L401,528 M396,509.5 L396,518"/>
<path class="l" d="M404,484.8 L412,484.5 M462,484.5 L470,484.8"/>
<circle class="l" cx="381.3" cy="484" r="1.6"/><circle class="l" cx="381.3" cy="515.2" r="1.6"/>
<circle class="l" cx="408" cy="535" r="1.3"/><circle class="l" cx="463.2" cy="535" r="1.3"/>
<ellipse class="l" cx="481.8" cy="483" rx="1.3" ry="2.2"/><ellipse class="l" cx="481.8" cy="504.5" rx="1.3" ry="2.2"/>
</g>
<path class="ld" d="M487,512.6 L529.3,511.2"/>
<text x="535" y="517">7</text>

<!-- PART 6 -->
<rect x="511.6" y="480.2" width="30.8" height="4.8" rx="1" fill="#9a9a9a" stroke="#111" stroke-width="1.4"/>
<path d="M514,482.6 L540,482.6" stroke="#ddd" stroke-width="0.8"/>
<path class="ld" d="M542,485.3 L589.3,495"/>
<text x="595.3" y="503.1">6</text>

<!-- PART 13 glove box + 14 handle -->
<g id="p13">
<path class="wf" d="M389.4,574.5 C391,568 392.5,564.5 394.1,562 C396,559 398,557 400.4,555.7 C404,553.8 408,552.8 411.4,552.6 L442.8,550.2 L571.2,547.5 L559.6,607.5 L383.2,610.8 Z"/>
<path class="l" d="M389.4,575.6 L566.9,569.6"/>
<path class="t" d="M411,570.6 L449,569.8 Q453.2,569 453.5,565 L453.8,560 Q453,555.8 449.5,555.6 L418,558.6 Q412,559.8 409.5,565.5 Q408.5,570.2 411,570.6 Z" style="stroke-width:1.9"/>
<path class="l" d="M423,567.6 L449,566.8 M421,561.8 L449,558.6 M449,558.6 L450,567"/>
<circle class="l" cx="417.7" cy="565.1" r="3.2" style="stroke-width:1.8"/>
</g>
<path class="ld" d="M450.8,569.6 L459.4,631"/>
<text x="451" y="648.4">14</text>
<path class="ld" d="M533,612 L548.5,645"/>
<text x="542.5" y="662.2">13</text>

<!-- PART 15 switch bank -->
<g id="p15">
<path class="f" d="M578,559.5 Q580,557.6 583,558 L602,564.3 L604,563.8 L621.3,568.8 Q623.6,569.5 623.4,572 L622,584 Q621.3,586.2 618.6,586 L609,584.3 L598.4,579 L580,569.5 Q577,567.5 577,563.5 Z"/>
<g fill="#fff"><ellipse cx="580.3" cy="563.8" rx="1" ry="1.3"/><ellipse cx="583.4" cy="565.3" rx="1" ry="1.3"/><path d="M588.3,564.8 L599.3,568.6 L598.6,571 L587.8,567.2 Z"/><ellipse cx="603.8" cy="575" rx="3.1" ry="3.4" fill="#eee"/><rect x="617.3" y="575.2" width="3.5" height="3.5"/><ellipse cx="612.5" cy="570.8" rx="0.9" ry="1.3" fill="#ccc"/><ellipse cx="611.5" cy="582" rx="0.9" ry="1.1" fill="#aaa"/></g>
</g>
<path class="ld" d="M599,580 L600.3,626"/>
<text x="590.8" y="644.2">15</text>

<!-- PART 16 -->
<path d="M413.3,624.5 Q414.5,621.5 418,621.5 L424.5,621.7 L424.5,634.3 Q421,634.5 418.5,631.5 L414,627.5 Q413,626 413.3,624.5 Z" fill="#111"/>
<ellipse cx="424.6" cy="628" rx="4.8" ry="6.3" fill="#111"/>
<ellipse cx="424.6" cy="628" rx="3.3" ry="4.7" fill="#fff"/>
<ellipse cx="424.2" cy="628.2" rx="1.2" ry="2.3" fill="#111"/>
<path class="ld" d="M421.8,634 L422.3,665.6"/>
<text x="412.8" y="682.9">16</text>

<!-- lower bracket -->
<g id="brk">
<path class="wf" d="M279,670.5 L292,670 L292.5,680.5 L290,681 L290.5,683 L293,683 L293,696.5 L279,696.5 Z"/>
<path class="wf" d="M345.7,667.6 L358.5,668 L359.5,695.2 L346,695.2 Z"/>
<path class="l" d="M293,683 L346,682.6 L346,689 L293,689.4 M296,685.8 L344,685.6"/>
<path class="l" d="M281,680 L292,680 M348,676 L358,676 M348,684 L358,684"/>
<circle class="f" cx="283.5" cy="687" r="1.5"/><circle class="f" cx="356" cy="686" r="1.5"/>
<circle class="l" cx="284.5" cy="674.5" r="1"/><circle class="l" cx="353" cy="672" r="1"/>
</g>

<!-- PART 17 bezel frame -->
<path d="M285.7,719.7 L290.4,722.6 L285.7,734.3 L278.5,735.5 Z" fill="#1a1a1a"/>
<path d="M351.6,719.1 L365,735.1 L357.1,733.5 L349.3,721.8 Z" fill="#333"/>
<path class="t" d="M285.7,719.7 L351.6,719.1 L365,735.1 Q365.5,737.8 362.6,738.3 L282.6,739 Q277,738.5 277,735.9 Z" style="stroke-width:2"/>
<path class="l" d="M290.4,722.6 L349.3,721.8 L357.1,733.5 L285.7,734.3 Z" style="stroke-width:1.7"/>
<path class="l" d="M281,736.4 L362,735.8" style="stroke-width:1"/>
<path class="ld" d="M240,721.6 L277.8,722.8"/>
<text x="221.5" y="726.6" letter-spacing="-2">17</text>

<!-- red rectangle -->
<rect x="47.4" y="297.2" width="368.2" height="112.9" fill="none" stroke="#d20e1e" stroke-width="3.2"/>

</svg>
</body></html>
